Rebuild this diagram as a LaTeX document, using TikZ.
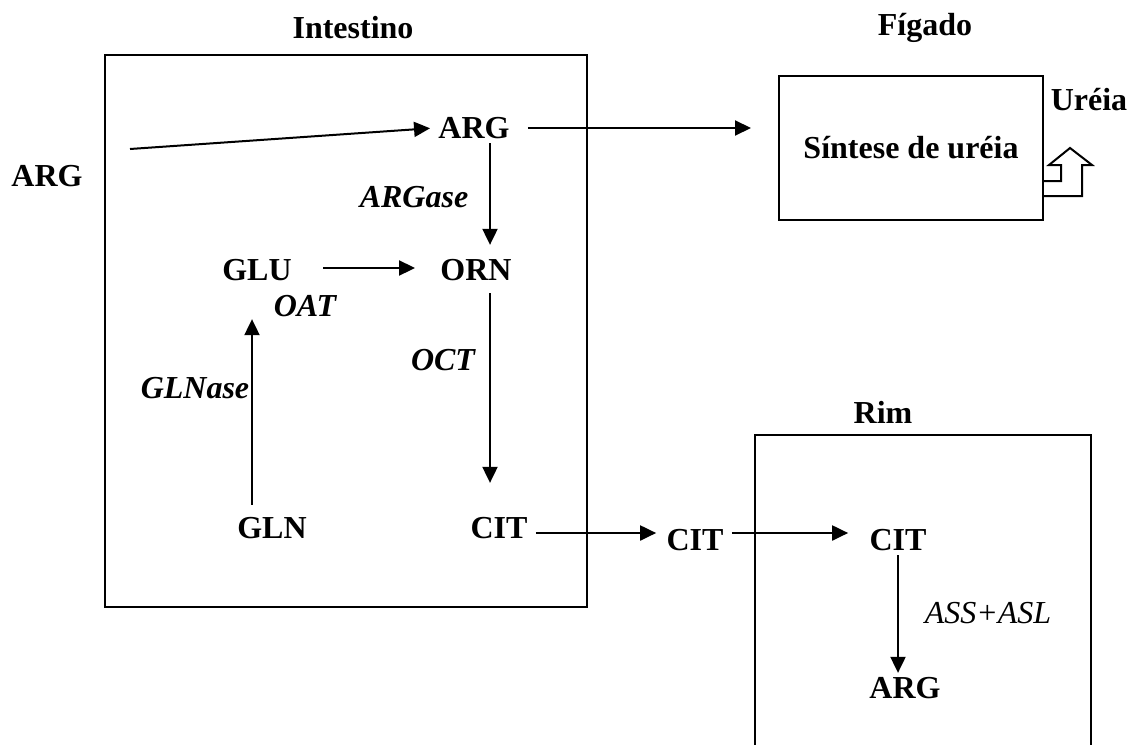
\documentclass[tikz,border=0pt]{standalone}
\usepackage{fontspec}
\setmainfont{Liberation Serif}
\usetikzlibrary{arrows.meta}

\begin{document}
\begin{tikzpicture}[
    x=0.5pt, y=-0.5pt,
    every node/.style={font=\fontsize{16}{19}\selectfont\bfseries, inner sep=2pt},
    enzyme/.style={font=\fontsize{16}{19}\selectfont\bfseries\itshape},
    arr/.style={line width=1pt, -{Triangle[length=8pt,width=7.5pt]}},
    box/.style={line width=1pt},
]
\useasboundingbox (0,0) rectangle (1128,744);

% compartments
\draw[box] (105,55) rectangle (587,607);
\node[box, draw, minimum width=132pt, minimum height=72pt] (sintese) at (911,148) {Síntese de uréia};
\draw[box] (755,746) -- (755,435) -- (1091,435) -- (1091,746);
\node (intestino) at (353,28) {Intestino};
\node (figado) at (925,28) {Fígado};
\node (rim) at (883,412) {Rim};

% urea output
\draw[box] (sintese.east |- 0,181) -- (1061,181) -- (1061,165) -- (1049,165) -- (1070,148)
  -- (1092,165) -- (1082,165) -- (1082,196) -- (sintese.east |- 0,196);
\node (ureia) at (1089,100) {Uréia};

% metabolites
\node (argout) at (47,176) {ARG};
\coordinate (argin) at (130,149);
\node (arg) at (474,128) {ARG};
\node (orn) at (476,270) {ORN};
\node (glu) at (257,270) {GLU};
\node (gln) at (272,528) {GLN};
\node (cit) at (499,528) {CIT};
\node (citout) at (695,540) {CIT};
\node (citk) at (898,540) {CIT};
\node (argk) at (905,688) {ARG};

% enzymes
\node[enzyme] (argase) at (414,197) {ARGase};
\node[enzyme] (oat) at (305,306) {OAT};
\node[enzyme] (oct) at (443,360) {OCT};
\node[enzyme] (glnase) at (195,388) {GLNase};
\node[font=\fontsize{16}{19}\selectfont\itshape] (assasl) at (988,613) {ASS+ASL};

% reactions
\draw[arr, shorten >=2pt] (argin) -- (arg.west);
\draw[arr, shorten <=7pt, shorten >=13.5pt] (arg.east) -- (arg.east -| sintese.west);
\draw[arr, shorten >=5pt] ([xshift=8pt]arg.south) -- ([xshift=7pt]orn.north);
\draw[arr, shorten <=13.5pt, shorten >=10.5pt] ([yshift=1pt]glu.east) -- ([yshift=1pt]orn.west);
\draw[arr, shorten <=4pt, shorten >=17pt] ([xshift=-10pt]gln.north) -- ([xshift=-10pt]gln.north |- glu.south);
\draw[arr, shorten <=4pt, shorten >=15pt] ([xshift=7pt]orn.south) -- ([xshift=7pt]orn.south |- cit.north);
\draw[arr, shorten <=2pt, shorten >=3pt] ([yshift=-2.5pt]cit.east) -- ([yshift=3.5pt]citout.west);
\draw[arr, shorten <=2pt, shorten >=8.5pt] ([yshift=3.5pt]citout.east) -- ([yshift=3.5pt]citk.west);
\draw[arr] (citk.south) -- (citk.south |- argk.north);
\end{tikzpicture}
\end{document}
